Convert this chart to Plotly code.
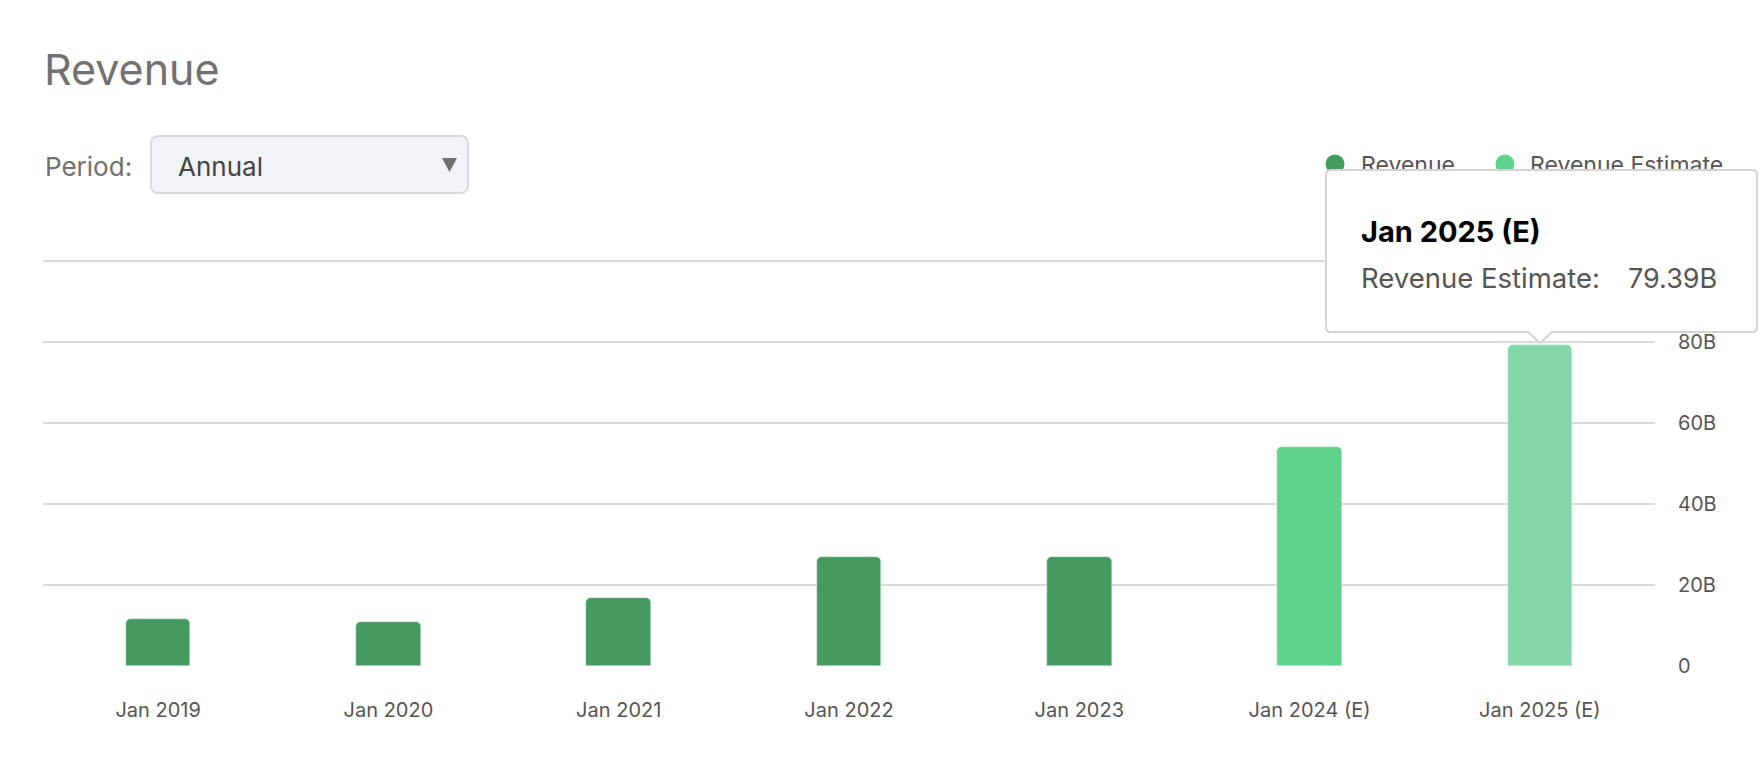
import plotly.graph_objects as go

# Data (values in billions USD)
categories = ["Jan 2019", "Jan 2020", "Jan 2021", "Jan 2022", "Jan 2023",
              "Jan 2024 (E)", "Jan 2025 (E)"]
revenue_cats = categories[:5]
revenue_vals = [11.72, 10.92, 16.68, 26.91, 26.97]
estimate_cats = categories[5:]
estimate_vals = [54.05, 79.39]
y_ticks = [0, 20, 40, 60, 80, 100]
y_tick_text = ["0", "20B", "40B", "60B", "80B", ""]   # 100B sits under the tooltip
legend_names = ["Revenue", "Revenue Estimate"]

FONT = "Inter, Roboto, 'Noto Sans', sans-serif"
W, H = 1760, 769
MB = 30                                  # bottom margin kept free
PH = H - MB                              # height of the full-page pixel subplot
Y_TOP = 100.5
L, R, B = 43, 1655, 666                  # chart area in pixels
T = B - 405 * Y_TOP / 100                # so that 100B sits at y=261


def tooltip_path(x0, y0, x1, y1, r, tip_x, tip_w, tip_h):
    return (f"M{x0 + r},{y0} L{x1 - r},{y0} Q{x1},{y0} {x1},{y0 + r} "
            f"L{x1},{y1 - r} Q{x1},{y1} {x1 - r},{y1} "
            f"L{tip_x + tip_w},{y1} L{tip_x},{y1 + tip_h} L{tip_x - tip_w},{y1} "
            f"L{x0 + r},{y1} Q{x0},{y1} {x0},{y1 - r} L{x0},{y0 + r} Q{x0},{y0} {x0 + r},{y0} Z")


def rounded_rect(x0, y0, x1, y1, r):
    return (f"M{x0 + r},{y0} L{x1 - r},{y0} Q{x1},{y0} {x1},{y0 + r} "
            f"L{x1},{y1 - r} Q{x1},{y1} {x1 - r},{y1} "
            f"L{x0 + r},{y1} Q{x0},{y1} {x0},{y1 - r} L{x0},{y0 + r} Q{x0},{y0} {x0 + r},{y0} Z")


fig = go.Figure()

fig.add_trace(go.Bar(
    x=revenue_cats, y=revenue_vals, name=legend_names[0],
    marker=dict(color="#459b5f"), width=0.28, showlegend=False,
))
fig.add_trace(go.Bar(
    x=estimate_cats, y=estimate_vals, name=legend_names[1],
    marker=dict(color=["#5fd38b", "#84d7a6"]), width=0.28, showlegend=False,
))

# legend labels drawn on a full-page pixel subplot, so the tooltip can cover them
fig.add_trace(go.Scatter(
    x=[1361, 1530], y=[167.5, 167.5], text=legend_names,
    mode="text", textposition="middle right",
    textfont=dict(size=23, color="#555555", family=FONT),
    xaxis="x2", yaxis="y2", hoverinfo="skip", showlegend=False,
))

px_ref = dict(xref="x2", yref="y2", layer="above")
shapes = [
    # dropdown box + arrow
    dict(type="path", path=rounded_rect(151, 136, 468, 193, 8),
         fillcolor="#f2f3f6", line=dict(color="#dadadd", width=2), **px_ref),
    dict(type="path", path="M442,158 L457,158 L449.5,172 Z",
         fillcolor="#707070", line=dict(width=0), **px_ref),
]
# legend dots
for cx, col in [(1335, "#459b5f"), (1505, "#5fd38b")]:
    shapes.append(dict(type="circle", x0=cx - 9.5, x1=cx + 9.5, y0=164 - 9.5, y1=164 + 9.5,
                       fillcolor=col, line=dict(width=0), **px_ref))
# tooltip box with pointer
shapes.append(dict(type="path", path=tooltip_path(1326, 170, 1757, 332, 5, 1540, 12, 11),
                   fillcolor="white", line=dict(color="#d4d4d4", width=2), **px_ref))

annotations = [
    dict(text="Revenue", x=42, y=69, xanchor="left", yanchor="middle",
         font=dict(size=43, color="#717171", family=FONT)),
    dict(text="Period:", x=43, y=166.5, xanchor="left", yanchor="middle",
         font=dict(size=26, color="#707070", family=FONT)),
    dict(text="Annual", x=176, y=166.5, xanchor="left", yanchor="middle",
         font=dict(size=26, color="#444444", family=FONT)),
    dict(text="<b>Jan 2025 (E)</b>", x=1359, y=231.5, xanchor="left", yanchor="middle",
         font=dict(size=29, color="#000000", family=FONT)),
    dict(text="Revenue Estimate:", x=1359, y=278, xanchor="left", yanchor="middle",
         font=dict(size=27.5, color="#555555", family=FONT)),
    dict(text=f"{estimate_vals[-1]:.2f}B", x=1719, y=278, xanchor="right", yanchor="middle",
         font=dict(size=27, color="#555555", family=FONT)),
]
for a in annotations:
    a.update(xref="x2", yref="y2", showarrow=False)

fig.update_layout(
    width=W, height=H,
    margin=dict(l=0, r=0, t=0, b=MB, pad=0),
    paper_bgcolor="white", plot_bgcolor="rgba(0,0,0,0)",
    barmode="overlay", bargap=0, barcornerradius=5,
    showlegend=False,
    font=dict(family=FONT, color="#555555"),
    xaxis=dict(type="category", categoryorder="array", categoryarray=categories,
               range=[-0.5, len(categories) - 0.5], domain=[L / W, R / W], anchor="y",
               showgrid=False, zeroline=False, showline=False, ticks="",
               tickfont=dict(size=20, color="#555555"), ticklabelstandoff=30),
    yaxis=dict(side="right", range=[0, Y_TOP], domain=[1 - B / PH, 1 - T / PH], anchor="x",
               tickvals=y_ticks, ticktext=y_tick_text,
               showgrid=True, gridcolor="#dadada", gridwidth=2,
               zeroline=False, showline=False, ticks="",
               tickfont=dict(size=20, color="#555555"), ticklabelstandoff=22),
    xaxis2=dict(domain=[0, 1], range=[0, W], anchor="y2", visible=False, fixedrange=True),
    yaxis2=dict(domain=[0, 1], range=[PH, 0], anchor="x2", visible=False, fixedrange=True),
    shapes=shapes,
    annotations=annotations,
)

fig.write_html("out.html", config={"displayModeBar": False},
               post_script="document.body.style.margin='0';")
